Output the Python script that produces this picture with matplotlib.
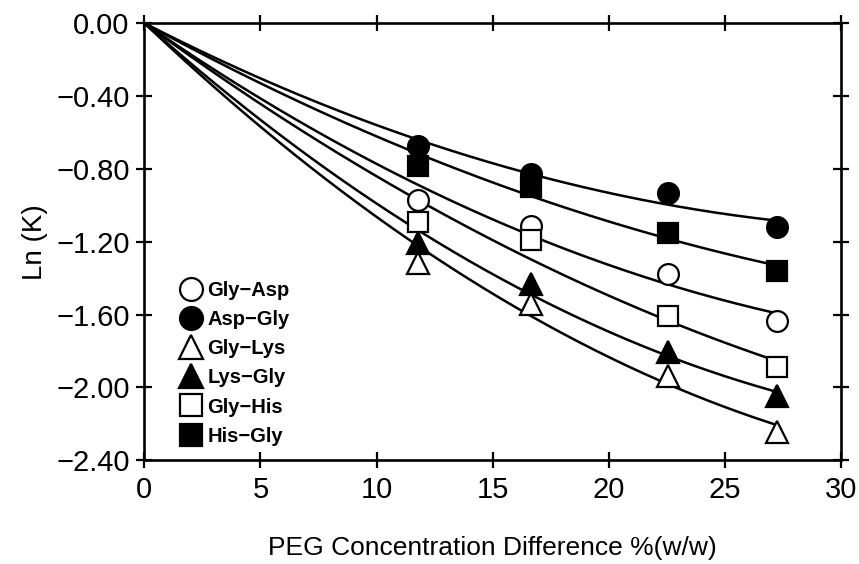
import numpy as np
import matplotlib
matplotlib.use("Agg")
import matplotlib.pyplot as plt

plt.rcParams['font.family'] = ['Liberation Sans', 'DejaVu Sans']

# PEG concentration difference, % (w/w)
peg_diff = [11.8, 16.65, 22.55, 27.25]

# Ln(K) for each dipeptide
gly_asp = [-0.97, -1.115, -1.38, -1.635]
asp_gly = [-0.675, -0.83, -0.935, -1.12]
gly_lys = [-1.315, -1.54, -1.94, -2.245]
lys_gly = [-1.21, -1.43, -1.805, -2.05]
gly_his = [-1.09, -1.19, -1.61, -1.89]
his_gly = [-0.785, -0.90, -1.15, -1.36]

series = [
    ("Gly\u2212Asp", gly_asp, 'o', 'white'),
    ("Asp\u2212Gly", asp_gly, 'o', 'black'),
    ("Gly\u2212Lys", gly_lys, '^', 'white'),
    ("Lys\u2212Gly", lys_gly, '^', 'black'),
    ("Gly\u2212His", gly_his, 's', 'white'),
    ("His\u2212Gly", his_gly, 's', 'black'),
]

fig = plt.figure(figsize=(8.59, 5.64), dpi=100)
ax = fig.add_axes([0.168, 0.184, 0.811, 0.775])

x = np.asarray(peg_diff)
xs = np.linspace(0, x[-1], 200)
for label, vals, marker, face in series:
    y = np.asarray(vals)
    # quadratic fit constrained through the origin
    A = np.column_stack([x, x ** 2])
    coef, *_ = np.linalg.lstsq(A, y, rcond=None)
    ax.plot(xs, coef[0] * xs + coef[1] * xs ** 2, color='black', lw=1.8, zorder=2)
    ms = 15 if marker != '^' else 16
    if marker == 's':
        ms = 14
    ax.plot(x, y, linestyle='none', marker=marker, markersize=ms,
            markerfacecolor=face, markeredgecolor='black', markeredgewidth=1.6,
            label=label, zorder=3)

ax.set_xlim(0, 30)
ax.set_ylim(-2.4, 0.0)
ax.set_xticks([0, 5, 10, 15, 20, 25, 30])
ax.set_yticks(np.arange(-2.4, 0.01, 0.4))
ax.yaxis.set_major_formatter(matplotlib.ticker.FuncFormatter(
    lambda v, p: ("\u2212" if v < -1e-9 else "") + f"{abs(v):.2f}"))

ax.tick_params(direction='inout', length=11, width=1.6, top=True, right=True,
               labelsize=21, pad=5)
ax.tick_params(axis='x', pad=6)
for s in ax.spines.values():
    s.set_linewidth(1.9)

ax.set_ylabel("Ln (K)", fontsize=20, labelpad=6)
ax.set_xlabel("PEG Concentration Difference %(w/w)", fontsize=19, labelpad=23)

leg = ax.legend(loc='lower left', bbox_to_anchor=(0.04, 0.015), frameon=False,
                fontsize=14.5, handletextpad=0.25, handlelength=1.1,
                labelspacing=0.5, borderaxespad=0.0, markerscale=1.1)
for t in leg.get_texts():
    t.set_fontweight('bold')

fig.savefig("out.png", dpi=100)
